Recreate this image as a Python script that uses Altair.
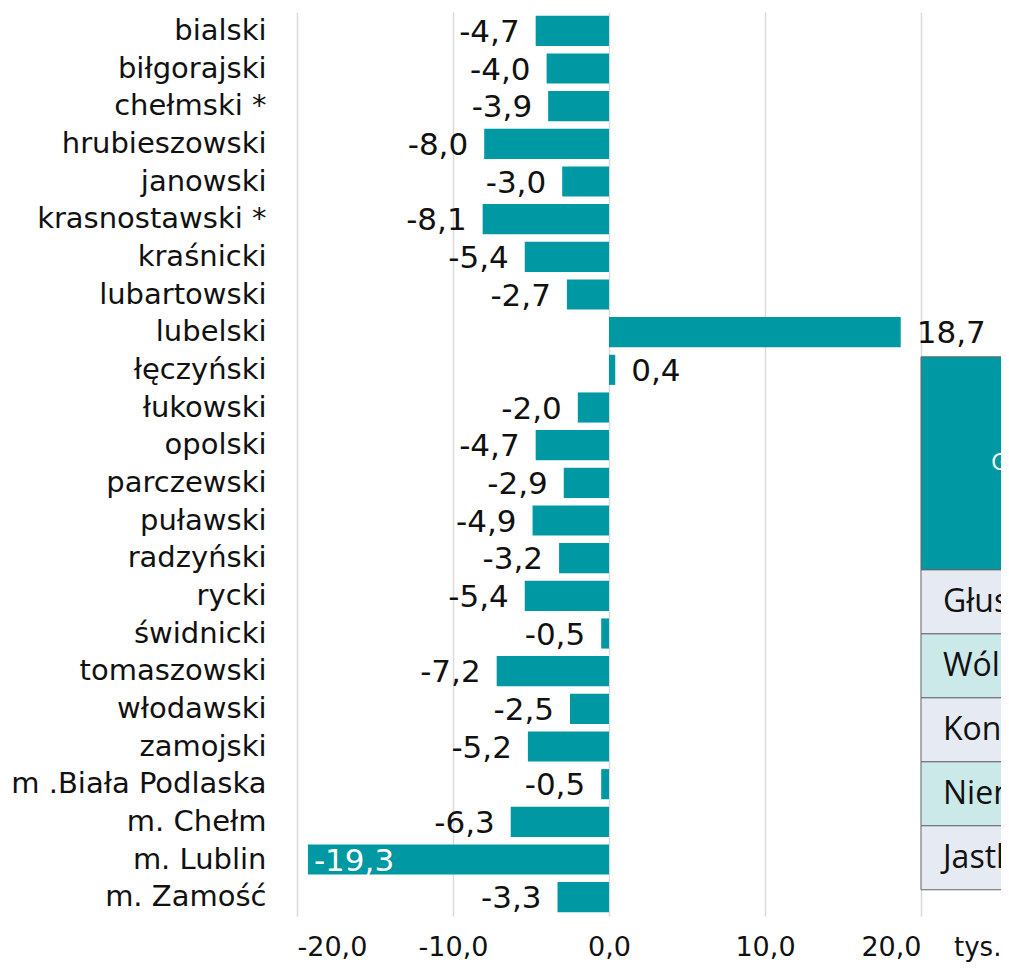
import altair as alt
import pandas as pd

categories = ["bialski", "biłgorajski", "chełmski *", "hrubieszowski", "janowski",
              "krasnostawski *", "kraśnicki", "lubartowski", "lubelski", "łęczyński",
              "łukowski", "opolski", "parczewski", "puławski", "radzyński", "rycki",
              "świdnicki", "tomaszowski", "włodawski", "zamojski", "m .Biała Podlaska",
              "m. Chełm", "m. Lublin", "m. Zamość"]
values = [-4.7, -4.0, -3.9, -8.0, -3.0, -8.1, -5.4, -2.7, 18.7, 0.4, -2.0, -4.7,
          -2.9, -4.9, -3.2, -5.4, -0.5, -7.2, -2.5, -5.2, -0.5, -6.3, -19.3, -3.3]
x_ticks = [-20, -10, 0, 10, 20]
unit_label = "tys."

table_header = "Gminy"
table_rows = ["Głusk", "Wólka", "Konopnica", "Niemce", "Jastków"]
row_kinds = ["a", "b", "a", "b", "a"]

FONT = "DejaVu Sans"
TFONT = "Open Sans"
TEAL = "#0099a3"
W, H = 624, 904
XD = [-20, 20]
XPAD = 18

df = pd.DataFrame({"cat": categories, "value": values})
df["label"] = [f"{v:.1f}".replace(".", ",") for v in values]

ysc = alt.Y("cat:N", sort=categories,
            scale=alt.Scale(paddingInner=0.2, paddingOuter=0.1),
            axis=alt.Axis(title=None, ticks=False, domain=False, grid=False,
                          labelFont=FONT, labelFontSize=29, labelColor="#111",
                          labelPadding=31, labelLimit=400))
xsc = alt.X("value:Q", scale=alt.Scale(domain=XD, nice=False),
            axis=alt.Axis(title=None, values=x_ticks, ticks=False, domain=False,
                          grid=True, gridColor="#dadada", gridWidth=1.5,
                          labelFont=FONT, labelFontSize=27, labelColor="#111",
                          labelPadding=XPAD,
                          labelExpr="replace(replace(format(datum.value, '.1f'), '.', ','), '\u2212', '-')"))

base = alt.Chart(df)
bars = base.mark_bar(color=TEAL).encode(y=ysc, x=xsc)

txt_kw = dict(font=FONT, fontSize=31, baseline="middle", dy=2, color="#111")
neg = base.transform_filter("datum.value < 0 && datum.value > -15").mark_text(
    align="right", dx=-16, **txt_kw).encode(y=alt.Y("cat:N", sort=categories),
                                             x="value:Q", text="label:N")
pos = base.transform_filter("datum.value > 0").mark_text(
    align="left", dx=16, **txt_kw).encode(y=alt.Y("cat:N", sort=categories),
                                           x="value:Q", text="label:N")
inside = base.transform_filter("datum.value <= -15").mark_text(
    align="left", dx=6, font=FONT, fontSize=31, baseline="middle", dy=2,
    color="white").encode(y=alt.Y("cat:N", sort=categories), x="value:Q", text="label:N")

unit = alt.Chart(pd.DataFrame({"t": [unit_label]})).mark_text(
    align="left", baseline="top", dx=33, dy=1, font=FONT, fontSize=26, color="#111"
).encode(x=alt.datum(20, scale=alt.Scale(domain=XD, nice=False)),
         y=alt.value(H + XPAD), text="t:N")

main = alt.layer(bars, neg, pos, inside, unit)

# inset table (partially visible at the right edge)
tdf = pd.DataFrame({
    "name": [table_header] + table_rows,
    "kind": ["h"] + row_kinds,
    "r0": [-3.33, 0, 1, 2, 3, 4],
    "r1": [0, 1, 2, 3, 4, 5],
})
tdf["mid"] = (tdf["r0"] + tdf["r1"]) / 2
yt = alt.Scale(domain=[-8.72, 5.41], reverse=True, nice=False, zero=False)
xt = alt.Scale(domain=XD, nice=False)
cells = alt.Chart(tdf).mark_rect(stroke="#666", strokeWidth=1).encode(
    x=alt.datum(20, scale=xt), x2=alt.datum(40),
    y=alt.Y("r0:Q", scale=yt, axis=None), y2="r1:Q",
    color=alt.Color("kind:N", legend=None,
                    scale=alt.Scale(domain=["h", "a", "b"],
                                    range=[TEAL, "#e6ebf3", "#cce9ea"])))
ttext = alt.Chart(tdf).transform_filter("datum.kind != 'h'").mark_text(
    align="left", baseline="middle", dx=22, font=TFONT, fontSize=32, color="#111"
).encode(x=alt.datum(20, scale=xt), y=alt.Y("mid:Q", scale=yt, axis=None), text="name:N")
htext = alt.Chart(tdf).transform_filter("datum.kind == 'h'").mark_text(
    align="left", baseline="middle", dx=70, font=TFONT, fontSize=24, color="white"
).encode(x=alt.datum(20, scale=xt), y=alt.Y("mid:Q", scale=yt, axis=None), text="name:N")
table = alt.layer(cells, ttext, htext)

chart = alt.layer(main, table).resolve_scale(y="independent").properties(
    width=W, height=H,
    autosize=alt.AutoSizeParams(type="none"),
    padding={"left": 289, "top": 4, "right": 80, "bottom": 46},
).configure_view(stroke=None)

chart.save("out.html", embed_options={"renderer": "svg", "actions": False})
